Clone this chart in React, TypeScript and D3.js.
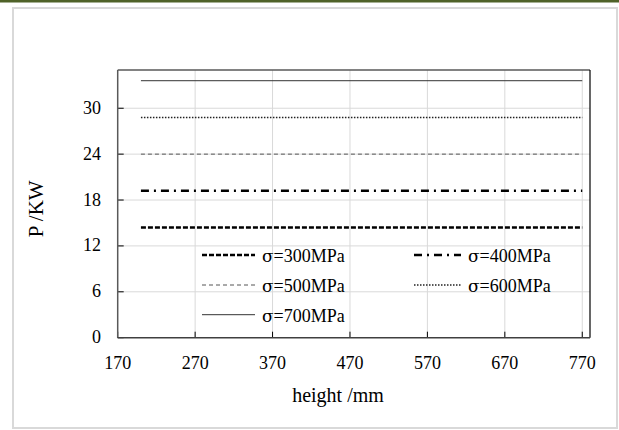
import React from "react";
import * as d3 from "d3";

// Heights (mm) at which power was evaluated
const heights = [200, 770];

// Power P (kW) per yield strength
const strengths = [300, 400, 500, 600, 700];
const p300 = [14.4, 14.4];
const p400 = [19.2, 19.2];
const p500 = [24.0, 24.0];
const p600 = [28.8, 28.8];
const p700 = [33.6, 33.6];

const xTicks = [170, 270, 370, 470, 570, 670, 770];
const yTicks = [0, 6, 12, 18, 24, 30];

const W = 619;
const H = 430;
const plot = { left: 117.7, right: 590, top: 70, bottom: 337.7 };
const FONT = "'Liberation Serif', 'Times New Roman', serif";

type LineStyle = { stroke: string; width: number; dash?: string };
const styles: LineStyle[] = [
  { stroke: "#000", width: 2.5, dash: "5,2" },
  { stroke: "#000", width: 2.5, dash: "8,5,2,5" },
  { stroke: "#555", width: 1, dash: "4,3" },
  { stroke: "#222", width: 1.5, dash: "1.5,1.5" },
  { stroke: "#333", width: 1 },
];

export default function App() {
  const x = d3.scaleLinear().domain([170, 780]).range([plot.left, plot.right]);
  const y = d3.scaleLinear().domain([0, 35]).range([plot.bottom, plot.top]);
  const line = d3
    .line<[number, number]>()
    .x((d) => x(d[0]))
    .y((d) => y(d[1]));
  const series = [p300, p400, p500, p600, p700].map((vals) =>
    heights.map((h, i) => [h, vals[i]] as [number, number])
  );

  // legend layout: two columns, three rows
  const legendPos = [
    { sx: 202, tx: 262, row: 0 },
    { sx: 414, tx: 468, row: 0 },
    { sx: 202, tx: 262, row: 1 },
    { sx: 414, tx: 468, row: 1 },
    { sx: 202, tx: 262, row: 2 },
  ];
  const rowBase = [262, 292, 321.7];

  return (
    <svg
      width={W}
      height={H}
      style={{ position: "absolute", left: 0, top: 0, background: "#fff" }}
      fontFamily={FONT}
    >
      <rect x={0} y={0} width={W} height={2.5} fill="#4f6228" />
      <rect x={13} y={8} width={604} height={420} fill="#fff" stroke="#d9d9d9" strokeWidth={2} />

      {/* grid */}
      {xTicks.slice(1).map((t) => (
        <line key={"gx" + t} x1={x(t)} x2={x(t)} y1={plot.top} y2={plot.bottom} stroke="#d9d9d9" strokeWidth={1} />
      ))}
      {yTicks.slice(1).map((t) => (
        <line key={"gy" + t} x1={plot.left} x2={plot.right} y1={y(t)} y2={y(t)} stroke="#d9d9d9" strokeWidth={1} />
      ))}

      {/* inward tick marks */}
      {xTicks.map((t) => (
        <line key={"tx" + t} x1={x(t)} x2={x(t)} y1={plot.bottom} y2={plot.bottom - 6} stroke="#000" strokeWidth={1} />
      ))}
      {yTicks.map((t) => (
        <line key={"ty" + t} x1={plot.left} x2={plot.left + 6} y1={y(t)} y2={y(t)} stroke="#000" strokeWidth={1} />
      ))}

      {/* plot frame */}
      <line x1={plot.left} x2={plot.right} y1={plot.top} y2={plot.top} stroke="#595959" strokeWidth={1.5} />
      <line x1={plot.left} x2={plot.left} y1={plot.top} y2={plot.bottom} stroke="#595959" strokeWidth={1.5} />
      <line x1={plot.right} x2={plot.right} y1={plot.top} y2={plot.bottom} stroke="#000" strokeWidth={1.2} />
      <line x1={plot.left} x2={plot.right} y1={plot.bottom} y2={plot.bottom} stroke="#404040" strokeWidth={1.5} />

      {/* series */}
      {series.map((d, i) => (
        <path
          key={"s" + i}
          d={line(d) || ""}
          fill="none"
          stroke={styles[i].stroke}
          strokeWidth={styles[i].width}
          strokeDasharray={styles[i].dash}
        />
      ))}

      {/* tick labels */}
      {xTicks.map((t) => (
        <text key={"lx" + t} x={x(t)} y={369} textAnchor="middle" fontSize={18} fill="#000">
          {t}
        </text>
      ))}
      {yTicks.map((t) => (
        <text key={"ly" + t} x={101} y={y(t) + 5.5} textAnchor="end" fontSize={18} fill="#000">
          {t}
        </text>
      ))}

      {/* axis titles */}
      <text x={338} y={402} textAnchor="middle" fontSize={20} fill="#000">
        height /mm
      </text>
      <text
        transform={`translate(43, ${(plot.top + plot.bottom) / 2 + 5}) rotate(-90)`}
        textAnchor="middle"
        fontSize={21}
        fill="#000"
      >
        P /KW
      </text>

      {/* legend */}
      {strengths.map((s, i) => {
        const p = legendPos[i];
        const base = rowBase[p.row];
        return (
          <g key={"lg" + i}>
            <line
              x1={p.sx}
              x2={p.tx - 7}
              y1={base - 7}
              y2={base - 7}
              stroke={styles[i].stroke}
              strokeWidth={styles[i].width}
              strokeDasharray={styles[i].dash}
            />
            <text x={p.tx} y={base} fontSize={18} fill="#000">
              <tspan fontFamily="'DejaVu Serif', serif" fontSize={17}>σ</tspan>
              <tspan fontFamily={FONT}>{`=${s}MPa`}</tspan>
            </text>
          </g>
        );
      })}
    </svg>
  );
}
